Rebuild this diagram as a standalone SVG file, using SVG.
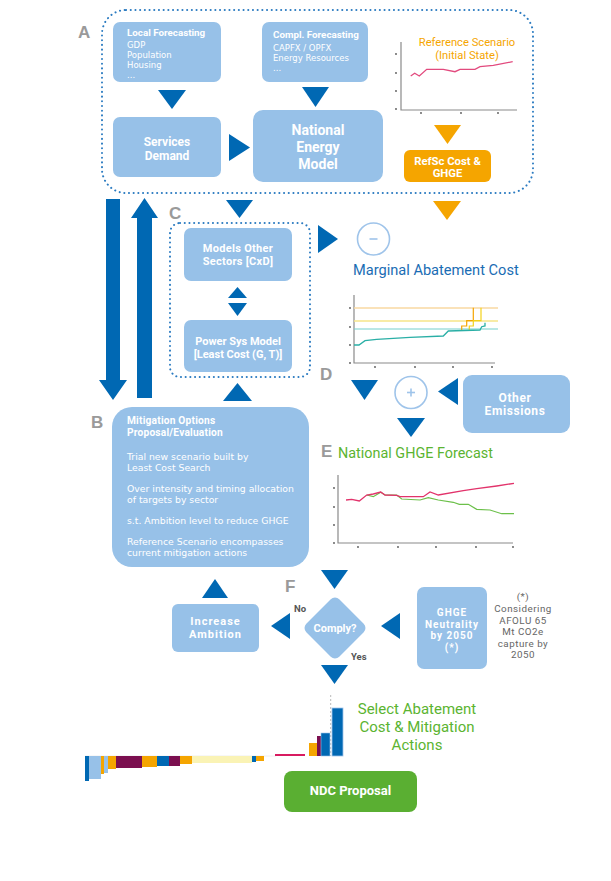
<svg xmlns="http://www.w3.org/2000/svg" width="611" height="881" viewBox="0 0 611 881">
<style>
.box{fill:#97C1E8}
.arr{fill:#0068B3}
.oarr{fill:#F5A500}
.dot{fill:none;stroke:#2B7BC1;stroke-width:2;stroke-dasharray:0.1 4.6;stroke-linecap:round}
.t{font-family:Roboto,"Liberation Sans",sans-serif;fill:#fff}
.d{font-family:"DejaVu Sans","Liberation Sans",sans-serif;fill:#fff}
.b{font-weight:bold}
.c{text-anchor:middle}
.letter{font-family:"Liberation Sans",Arial,sans-serif;font-weight:bold;font-size:17px;fill:#9A9A9A}
.axis{fill:none;stroke:#8A8A8A;stroke-width:1.2}
.tick{fill:#555}
.circ{fill:#fff;stroke:#9FC4EA;stroke-width:1.6}
.f{font-family:Roboto,"Liberation Sans",sans-serif}
</style>
<rect width="611" height="881" fill="#fff"/>

<!-- region frames -->
<g id="regionA">
<rect class="dot" x="102" y="10" width="431" height="183" rx="24"/>
<text class="letter" x="78" y="38">A</text>
</g>
<g id="regionC">
<rect class="dot" x="170" y="223" width="140" height="154" rx="10"/>
<text class="letter" x="169" y="219">C</text>
</g>
<text class="letter" x="320" y="380">D</text>
<text class="letter" x="91" y="428">B</text>
<text class="letter" x="321" y="457">E</text>
<text class="letter" x="285" y="592">F</text>

<!-- nodes -->
<g id="localForecasting">
<rect class="box" x="113" y="22" width="108" height="60" rx="7"/>
<text class="t b" x="127" y="36" font-size="9.8">Local Forecasting</text>
<text class="d" x="127" y="48" font-size="8.5">GDP</text>
<text class="d" x="127" y="58" font-size="8.5">Population</text>
<text class="d" x="127" y="68" font-size="8.5">Housing</text>
<text class="d" x="127" y="78" font-size="8.5">...</text>
</g>
<g id="complForecasting">
<rect class="box" x="262" y="22" width="106" height="60" rx="7"/>
<text class="t b" x="273" y="38" font-size="9.8">Compl. Forecasting</text>
<text class="d" x="273" y="51" font-size="8.5">CAPFX / OPFX</text>
<text class="d" x="273" y="61" font-size="8.5">Energy Resources</text>
<text class="d" x="273" y="71" font-size="8.5">...</text>
</g>
<g id="servicesDemand">
<rect class="box" x="113" y="117" width="108" height="60" rx="7"/>
<text class="t b c" x="167" y="146" font-size="12">Services</text>
<text class="t b c" x="167" y="160" font-size="12">Demand</text>
</g>
<g id="nationalEnergyModel">
<rect class="box" x="253" y="110" width="130" height="72" rx="10"/>
<text class="t b c" x="318" y="135" font-size="14">National</text>
<text class="t b c" x="318" y="152" font-size="14">Energy</text>
<text class="t b c" x="318" y="169" font-size="14">Model</text>
</g>
<g id="referenceScenario">
<path class="axis" d="M401,42 V110 H517"/>
<g class="tick"><circle cx="396" cy="54" r="0.9"/><circle cx="396" cy="73" r="0.9"/><circle cx="396" cy="91" r="0.9"/><circle cx="396" cy="109" r="0.9"/><circle cx="421" cy="113" r="0.9"/><circle cx="461" cy="113" r="0.9"/><circle cx="498" cy="113" r="0.9"/></g>
<polyline fill="none" stroke="#E24A7E" stroke-width="1.3" points="410.7,76 414.7,73.3 419.3,76 426.7,69.3 443.3,69.3 455,71.7 460,69.3 475,69.3 480,66.7 493.3,65.3 512.7,61.7"/>
<text class="f c" x="467" y="46" font-size="11.2" fill="#F5A500">Reference Scenario</text>
<text class="f c" x="467" y="59" font-size="11.2" fill="#F5A500">(Initial State)</text>
</g>
<g id="refScCost">
<rect x="404" y="150" width="87" height="32" rx="6" fill="#F5A500"/>
<text class="t b c" x="447.5" y="165" font-size="11.3">RefSc Cost &amp;</text>
<text class="t b c" x="447.5" y="177" font-size="11.3">GHGE</text>
</g>
<g id="modelsOtherSectors">
<rect class="box" x="184" y="228" width="108" height="53" rx="7"/>
<text class="t b c" x="238" y="252" font-size="11" letter-spacing="0.3">Models Other</text>
<text class="t b c" x="238" y="265" font-size="11" letter-spacing="0.3">Sectors [CxD]</text>
</g>
<g id="powerSysModel">
<rect class="box" x="184" y="320" width="108" height="52" rx="7"/>
<text class="t b c" x="238" y="345" font-size="11">Power Sys Model</text>
<text class="t b c" x="238" y="358" font-size="11">[Least Cost (G, T)]</text>
</g>
<g id="minusNode">
<circle class="circ" cx="373.5" cy="239" r="16"/>
<line x1="369.5" y1="239" x2="377.5" y2="239" stroke="#9FC4EA" stroke-width="1.6"/>
</g>
<g id="marginalAbatementCost">
<text class="f" x="353" y="275" font-size="14.6" fill="#1A6DB4">Marginal Abatement Cost</text>
<path class="axis" d="M354,295 V363 H495"/>
<g class="tick"><circle cx="350" cy="308" r="0.9"/><circle cx="350" cy="327" r="0.9"/><circle cx="350" cy="345" r="0.9"/><circle cx="350" cy="363" r="0.9"/><circle cx="375" cy="367" r="0.9"/><circle cx="415" cy="367" r="0.9"/><circle cx="453" cy="367" r="0.9"/><circle cx="492" cy="367" r="0.9"/></g>
<line x1="354" y1="308" x2="498" y2="308" stroke="#F8D9A2" stroke-width="1.5"/>
<line x1="354" y1="321" x2="498" y2="321" stroke="#F6E589" stroke-width="1.5"/>
<line x1="354" y1="329" x2="498" y2="329" stroke="#74CFCB" stroke-width="1.2"/>
<polyline fill="none" stroke="#F5A500" stroke-width="1.2" points="461.7,330 461.7,326 466.7,326 466.7,320.7 473.3,320.7 473.3,307.7"/>
<polyline fill="none" stroke="#F3D21C" stroke-width="1.2" points="469.3,330 469.3,326 473.3,326 473.3,320.7 481,320.7 481,307.7"/>
<polyline fill="none" stroke="#2AAFA6" stroke-width="1.3" points="354,345 359,345 365,340.7 376.7,339.3 410,337.3 443.3,336 448.3,331 480,330 481.7,326.7 485,326 485,322.7"/>
</g>
<g id="plusNode">
<circle class="circ" cx="411" cy="392.5" r="16"/>
<line x1="407" y1="392.5" x2="415" y2="392.5" stroke="#9FC4EA" stroke-width="1.6"/>
<line x1="411" y1="388.5" x2="411" y2="396.5" stroke="#9FC4EA" stroke-width="1.6"/>
</g>
<g id="otherEmissions">
<rect class="box" x="463" y="375" width="107" height="58" rx="9"/>
<text class="t b c" x="515" y="402" font-size="12" letter-spacing="0.6">Other</text>
<text class="t b c" x="515" y="415" font-size="12" letter-spacing="0.6">Emissions</text>
</g>
<g id="mitigationOptions">
<rect class="box" x="112" y="407" width="197" height="160" rx="20"/>
<text class="t b" x="127" y="424" font-size="10.2" letter-spacing="0.2">Mitigation Options</text>
<text class="t b" x="127" y="436" font-size="10.2" letter-spacing="0.2">Proposal/Evaluation</text>
<text class="d" x="127" y="460" font-size="9.3">Trial new scenario built by</text>
<text class="d" x="127" y="471" font-size="9.3">Least Cost Search</text>
<text class="d" x="127" y="492" font-size="9.3">Over intensity and timing allocation</text>
<text class="d" x="127" y="503" font-size="9.3">of targets by sector</text>
<text class="d" x="127" y="524" font-size="9.3">s.t. Ambition level to reduce GHGE</text>
<text class="d" x="127" y="545" font-size="9.3">Reference Scenario encompasses</text>
<text class="d" x="127" y="556" font-size="9.3">current mitigation actions</text>
</g>
<g id="nationalGHGEForecast">
<text class="f" x="338" y="458" font-size="14.4" fill="#5BB431">National GHGE Forecast</text>
<path class="axis" d="M338,475 V543 H513"/>
<g class="tick"><circle cx="334" cy="488" r="0.9"/><circle cx="334" cy="507" r="0.9"/><circle cx="334" cy="525" r="0.9"/><circle cx="334" cy="543" r="0.9"/><circle cx="358" cy="547" r="0.9"/><circle cx="398" cy="547" r="0.9"/><circle cx="436" cy="547" r="0.9"/><circle cx="476" cy="547" r="0.9"/><circle cx="513" cy="547" r="0.9"/></g>
<polyline fill="none" stroke="#6CC04A" stroke-width="1.2" points="366.7,495 373.3,496.7 380.7,492.3 385,495 396.7,495 401.7,499 420,500 428.3,497.7 438.3,500 453.3,502.3 459.3,504.3 468.3,504.3 476.7,509.3 490,510 501.7,513.7 514,513.7"/>
<polyline fill="none" stroke="#E2336B" stroke-width="1.3" points="346,500 351.7,499.3 359.3,501 366.7,495 373.3,494 380.7,492 385,495 396.7,495.3 400,496.7 423.3,496.7 430,492 438.3,495 463.3,490.7 476.7,488.7 496.7,486 514,483.3"/>
</g>
<g id="comply">
<rect class="box" x="-23.3" y="-23.3" width="46.6" height="46.6" rx="6" transform="translate(335,628) rotate(45)"/>
<text class="t b c" x="335" y="632" font-size="11">Comply?</text>
</g>
<g id="increaseAmbition">
<rect class="box" x="172" y="604" width="87" height="48" rx="6"/>
<text class="t b c" x="215.5" y="625" font-size="11" letter-spacing="1">Increase</text>
<text class="t b c" x="215.5" y="638" font-size="11" letter-spacing="1">Ambition</text>
</g>
<g id="ghgeNeutrality">
<rect class="box" x="417" y="587" width="70" height="82" rx="7"/>
<text class="t b c" x="452" y="616" font-size="10" letter-spacing="1">GHGE</text>
<text class="t b c" x="452" y="627.5" font-size="10" letter-spacing="1">Neutrality</text>
<text class="t b c" x="452" y="639" font-size="10" letter-spacing="1">by 2050</text>
<text class="t b c" x="452" y="650.5" font-size="10" letter-spacing="1">(*)</text>
</g>
<g id="note" class="f" font-size="9.8" fill="#666" text-anchor="middle" letter-spacing="0.5">
<text x="523" y="600">(*)</text>
<text x="523" y="612">Considering</text>
<text x="523" y="623.5">AFOLU 65</text>
<text x="523" y="635">Mt CO2e</text>
<text x="523" y="646.5">capture by</text>
<text x="523" y="658">2050</text>
</g>
<g id="selectAbatement">
<line x1="330.7" y1="695" x2="330.7" y2="756" stroke="#BBB" stroke-width="1" stroke-dasharray="2 2"/>
<line x1="85" y1="756" x2="276" y2="756" stroke="#EEE" stroke-width="1"/>
<rect x="275" y="754" width="30" height="2" fill="#D81B60"/>
<rect x="309" y="743" width="8" height="13" fill="#F5A500"/>
<rect x="317" y="736" width="4" height="20" fill="#7B0F4F"/>
<rect x="321" y="733" width="9" height="23" fill="#0068B3" stroke="#9FC4EA" stroke-width="0.6"/>
<rect x="332" y="708" width="11" height="48" fill="#0068B3" stroke="#9FC4EA" stroke-width="0.8"/>
<rect x="85" y="756" width="4" height="25" fill="#0068B3"/>
<rect x="89" y="756" width="12" height="23" fill="#97C1E8"/>
<rect x="101" y="756" width="3" height="18" fill="#F5A500"/>
<rect x="104" y="756" width="4" height="17" fill="#97C1E8"/>
<rect x="108" y="756" width="8" height="13" fill="#F5A500"/>
<rect x="116" y="756" width="26" height="12" fill="#7B0F4F"/>
<rect x="142" y="756" width="15" height="11" fill="#F5A500"/>
<rect x="157" y="756" width="12" height="10" fill="#0068B3"/>
<rect x="169" y="756" width="11" height="10" fill="#7B0F4F"/>
<rect x="180" y="756" width="12" height="8" fill="#F5A500"/>
<rect x="192" y="756" width="60" height="7" fill="#FAF3B5"/>
<rect x="252" y="756" width="4" height="6" fill="#0068B3"/>
<rect x="256" y="756" width="8" height="5" fill="#F5A500"/>
<text class="f c" x="417" y="714" font-size="15" fill="#5BB431">Select Abatement</text>
<text class="f c" x="417" y="732" font-size="15" fill="#5BB431">Cost &amp; Mitigation</text>
<text class="f c" x="417" y="750" font-size="15" fill="#5BB431">Actions</text>
</g>
<g id="ndcProposal">
<rect x="284" y="771" width="133" height="41" rx="8" fill="#5AAF32"/>
<text class="t b c" x="350.5" y="795" font-size="13">NDC Proposal</text>
</g>

<!-- connectors -->
<g id="connectors">
<polygon class="arr" points="158,90 186,90 172,109"/>
<polygon class="arr" points="302,87 329,87 315.5,107"/>
<polygon class="arr" points="229,134 229,161 250,147.5"/>
<polygon class="oarr" points="434,125 461,125 447.5,144"/>
<polygon class="oarr" points="433,201 461,201 447,220"/>
<polygon class="arr" points="226,200 253,200 239.5,218"/>
<polygon class="arr" points="106,199 120,199 120,380 127,380 113,400 99,380 106,380"/>
<polygon class="arr" points="137,398 152,398 152,218 158,218 144.5,198 131,218 137,218"/>
<polygon class="arr" points="228,298 247,298 237.5,287"/>
<polygon class="arr" points="228,303 247,303 237.5,316"/>
<polygon class="arr" points="223,401 252,401 237.5,383"/>
<polygon class="arr" points="318,225 318,253 338,239"/>
<polygon class="arr" points="351,380 378,380 364.5,400"/>
<polygon class="arr" points="458,378 458,405 438,391.5"/>
<polygon class="arr" points="397,418 425,418 411,437"/>
<polygon class="arr" points="321,570 348,570 334.5,589"/>
<polygon class="arr" points="290,613 290,639 271,626"/>
<polygon class="arr" points="400,613 400,639 381,626"/>
<polygon class="arr" points="202,598 228,598 215,579"/>
<polygon class="arr" points="321,665 348,665 334.5,684"/>
<text class="f" x="294" y="612" font-size="9.5" font-weight="bold" fill="#555">No</text>
<text class="f" x="351" y="660" font-size="9.5" font-weight="bold" fill="#555">Yes</text>
</g>
</svg>
